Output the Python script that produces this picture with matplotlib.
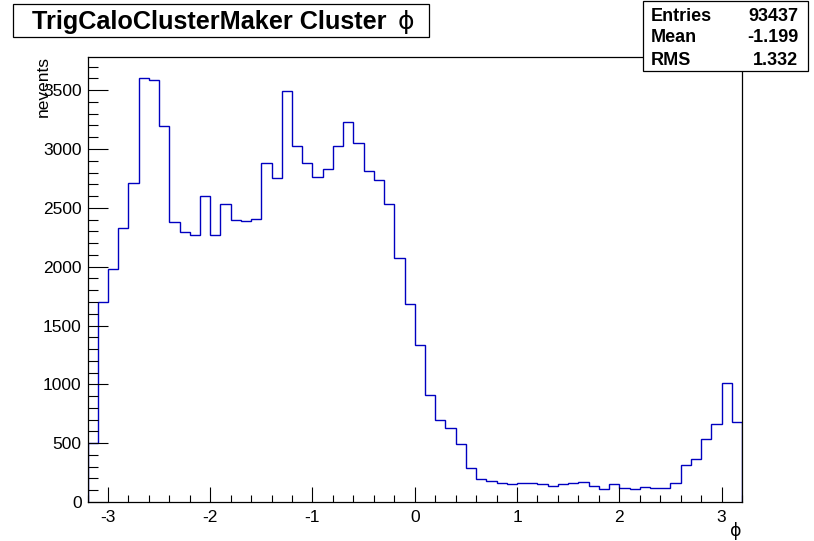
import numpy as np
import matplotlib
matplotlib.use("Agg")
import matplotlib.pyplot as plt
from matplotlib.patches import Rectangle
from matplotlib.ticker import MultipleLocator

# ---- data ----
x_min, x_max, n_bins = -3.2, 3.2, 64
counts = [
    500, 1696, 1982, 2328, 2708, 3606, 3586, 3198, 2379, 2297,
    2265, 2597, 2265, 2532, 2399, 2388, 2407, 2881, 2756, 3496,
    3022, 2881, 2764, 2832, 3022, 3229, 3053, 2810, 2736, 2532,
    2073, 1687, 1338, 908, 698, 633, 491, 290, 196, 182,
    165, 154, 158, 165, 154, 140, 154, 165, 174, 140,
    111, 154, 123, 111, 131, 123, 123, 165, 318, 369,
    539, 664, 1010, 684,
]
title = "TrigCaloClusterMaker Cluster"
title_sym = "\u03d5"
x_label = "\u03d5"
y_label = "nevents"
stat_names = ["Entries", "Mean", "RMS"]
stat_values = ["93437", "-1.199", "1.332"]

# ---- figure ----
W, H = 814, 541
fig = plt.figure(figsize=(W / 100, H / 100), dpi=100)
plt.rcParams['font.family'] = ['Liberation Sans', 'DejaVu Sans']

def fx(px):
    return px / W

def fy(py):
    return 1 - py / H

ax_l, ax_r, ax_t, ax_b = 87.5, 742.0, 56.5, 502.0
ax = fig.add_axes([fx(ax_l), fy(ax_b), (ax_r - ax_l) / W, (ax_b - ax_t) / H])

edges = np.linspace(x_min, x_max, n_bins + 1)
ax.stairs(counts, edges, color="#0000c0", linewidth=1.0, baseline=0)

ax.set_xlim(x_min, x_max)
ax.set_ylim(0, max(counts) * 1.05)

ax.xaxis.set_major_locator(MultipleLocator(1))
ax.xaxis.set_minor_locator(MultipleLocator(0.2))
ax.yaxis.set_major_locator(MultipleLocator(500))
ax.yaxis.set_minor_locator(MultipleLocator(100))

ax.tick_params(axis='both', which='both', direction='in', top=False, right=False,
               width=0.8, color='black', labelsize=12.5)
ax.tick_params(axis='y', which='major', length=14.4, pad=4.3)
ax.tick_params(axis='y', which='minor', length=7.2)
ax.tick_params(axis='x', which='major', length=10.8, pad=5.5)
ax.tick_params(axis='x', which='minor', length=5.2)
for s in ax.spines.values():
    s.set_linewidth(0.9)

ax.xaxis.set_major_formatter(matplotlib.ticker.FuncFormatter(lambda v, p: f"{int(round(v))}"))
ax.yaxis.set_major_formatter(matplotlib.ticker.FuncFormatter(lambda v, p: f"{int(round(v))}"))

# axis titles
fig.text(fx(43), fy(56), y_label, rotation=90, ha='center', va='top', fontsize=12.5)
fig.text(fx(736), fy(531), x_label, ha='center', va='center', fontsize=12.5,
         family=['DejaVu Sans'])

# title box
fig.patches.append(Rectangle((fx(13), fy(37)), (429 - 13) / W, (37 - 4) / H,
                             transform=fig.transFigure, facecolor='white',
                             edgecolor='black', linewidth=0.9, zorder=5))
fig.text(fx(31.5), fy(29.5), title, ha='left', va='baseline', fontsize=18.2,
         fontweight='bold', zorder=6)
fig.text(fx(406), fy(29.5), title_sym, ha='center', va='baseline', fontsize=18,
         family=['DejaVu Sans'], zorder=6)

# stats box
fig.patches.append(Rectangle((fx(643), fy(70.5)), (808 - 643) / W, (70.5 - 1.5) / H,
                             transform=fig.transFigure, facecolor='white',
                             edgecolor='black', linewidth=0.9, zorder=5))
baselines = [21.0, 42.5, 65.0]
for name, val, b in zip(stat_names, stat_values, baselines):
    fig.text(fx(651), fy(b), name, ha='left', va='baseline', fontsize=13,
             fontweight='bold', zorder=6)
    fig.text(fx(798.5), fy(b), val, ha='right', va='baseline', fontsize=13,
             fontweight='bold', zorder=6)

fig.savefig("out.png", dpi=100)
